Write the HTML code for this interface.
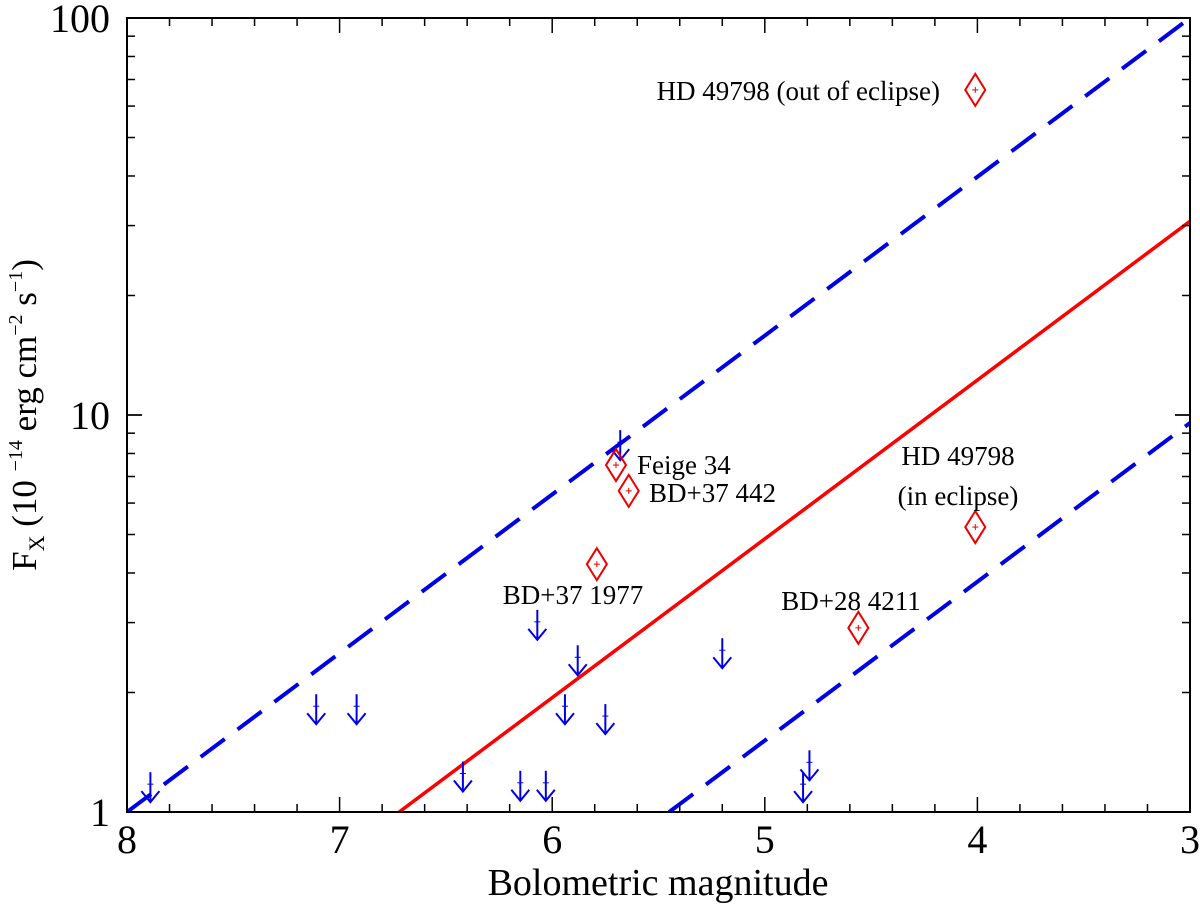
<!DOCTYPE html>
<html><head><meta charset="utf-8"><style>
html,body{margin:0;padding:0;background:#fff;}
svg{display:block;font-family:"Liberation Serif",serif;}
</style></head><body>
<svg id="chart" width="1200" height="909" viewBox="0 0 1200 909" xmlns="http://www.w3.org/2000/svg">
<g id="lines"></g><g id="marks"></g><g id="axes"></g>
</svg>
<script>
const xTickLabels=[8,7,6,5,4,3];
const yTickLabels=[1,10,100];
const detMag=[4.01,5.70,5.64,5.79,4.56,4.01];
const detFlux=[65.9,7.48,6.44,4.21,2.91,5.22];
const ulMag=[7.89,7.11,6.92,6.42,6.15,6.03,6.07,5.88,5.94,5.75,5.68,5.20,4.82,4.79];
const ulFlux=[1.26,1.98,1.98,1.34,1.27,1.27,3.23,2.63,1.98,1.87,9.16,2.74,1.26,1.43];
const lineZeroMag=[8,6.72,5.45];

const L=127,R=1190,T=18,B=812;
const NS='http://www.w3.org/2000/svg';
const xs=m=>L+(8-m)/5*(R-L);
const ys=f=>B-Math.log10(f)/2*(B-T);
function mk(tag,attrs,parent){const e=document.createElementNS(NS,tag);for(const k in attrs)e.setAttribute(k,attrs[k]);parent.appendChild(e);return e;}
const lines=document.getElementById('lines'),marks=document.getElementById('marks'),axes=document.getElementById('axes');

const defs=mk('defs',{},document.getElementById('chart'));
const cp=mk('clipPath',{id:'cp'},defs);mk('rect',{x:L,y:T,width:R-L,height:B-T},cp);
lines.setAttribute('clip-path','url(#cp)');

lineZeroMag.forEach((m0,i)=>{
  const f=m=>Math.pow(10,0.4*(m0-m));
  const l=mk('line',{x1:xs(m0),y1:ys(1),x2:xs(3),y2:ys(f(3)),stroke:i===1?'#f00':'#0000e6','stroke-width':i===1?3.5:4,'stroke-dasharray':i===1?'none':'30,16'},lines);
  
  
});

ulMag.forEach((m,i)=>{
  const x=xs(m),y=ys(ulFlux[i]);
  const g=mk('g',{stroke:'#0000e6','stroke-width':2,fill:'none'},marks);
  
  
  mk('line',{x1:x,y1:y,x2:x,y2:y+30},g);
  mk('polyline',{points:`${x-9},${y+19} ${x},${y+30} ${x+9},${y+19}`},g);
  mk('line',{x1:x-3,y1:y+12,x2:x+3,y2:y+12,'stroke-width':1},g);
});

detMag.forEach((m,i)=>{
  const x=xs(m),y=ys(detFlux[i]);
  const g=mk('g',{stroke:'#e00','fill':'none'},marks);
  
  
  mk('polygon',{points:`${x},${y-16} ${x+10},${y} ${x},${y+16} ${x-10},${y}`,'stroke-width':2},g);
  mk('line',{x1:x-3,y1:y,x2:x+3,y2:y,'stroke-width':1},g);
  mk('line',{x1:x,y1:y-3,x2:x,y2:y+3,'stroke-width':1},g);
});

const labs=[["HD 49798 (out of eclipse)",940,100,'end'],["Feige 34",637,474,'start'],["BD+37 442",649,502,'start'],["BD+37 1977",573,604,'middle'],["BD+28 4211",851,610,'middle'],["HD 49798",958,465,'middle'],["(in eclipse)",958,505,'middle']];
labs.forEach(a=>{const t=mk('text',{x:a[1],y:a[2],'text-anchor':a[3],'font-size':27,fill:'#000'},marks);t.textContent=a[0];

});

const box=mk('rect',{x:L,y:T,width:R-L,height:B-T,fill:'none',stroke:'#000','stroke-width':2},axes);


for(let k=0;k<=25;k++){const m=8-k*0.2,x=xs(m),len=k%5===0?15:8;
  mk('line',{x1:x,y1:B,x2:x,y2:B-len,stroke:'#000','stroke-width':1.5},axes);
  mk('line',{x1:x,y1:T,x2:x,y2:T+len,stroke:'#000','stroke-width':1.5},axes);}
xTickLabels.forEach(v=>{const t=mk('text',{x:xs(v),y:853,'text-anchor':'middle','font-size':40},axes);t.textContent=v;

});
for(let d=0;d<2;d++)for(let k=1;k<=10;k++){const f=k*Math.pow(10,d),y=ys(f),len=k===1||k===10?15:8;
  mk('line',{x1:L,y1:y,x2:L+len,y2:y,stroke:'#000','stroke-width':1.5},axes);
  mk('line',{x1:R,y1:y,x2:R-len,y2:y,stroke:'#000','stroke-width':1.5},axes);}
yTickLabels.forEach(v=>{const t=mk('text',{x:110,y:ys(v)+14,'text-anchor':'end','font-size':40},axes);t.textContent=v;

});
</script>
<svg style="position:absolute;left:0;top:0" width="1200" height="909" xmlns="http://www.w3.org/2000/svg">
<text x="658" y="895" text-anchor="middle" font-size="38" font-family="Liberation Serif, serif">Bolometric magnitude</text>
<text transform="translate(36,415) rotate(-90)" text-anchor="middle" font-size="35" font-family="Liberation Serif, serif">F<tspan font-size="22" dy="8">X</tspan><tspan dy="-8">  (10 </tspan><tspan font-size="20" dy="-14">−14</tspan><tspan dy="14"> erg cm</tspan><tspan font-size="20" dy="-14">−2</tspan><tspan dy="14"> s</tspan><tspan font-size="20" dy="-14">−1</tspan><tspan dy="14">)</tspan></text>
</svg>
</body></html>
